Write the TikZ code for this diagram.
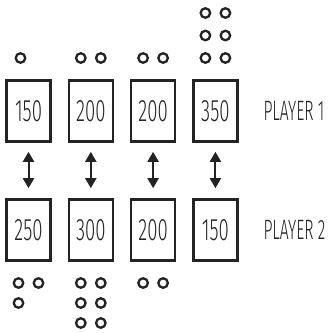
\documentclass[tikz,border=0pt]{standalone}
\usepackage{fontspec}
\newfontfamily\cardfont{Fira Sans}[UprightFont=* Light, FakeStretch=0.6]
\newfontfamily\playerfont{Fira Sans}[UprightFont=* Light, FakeStretch=0.56]
\usepackage{xcolor}
\definecolor{inkgray}{RGB}{35,35,35}
\usepackage{tikz}
\usetikzlibrary{positioning, arrows.meta}

\begin{document}
\begin{tikzpicture}[x=1pt, y=-1pt,
    card/.style={draw=inkgray, line width=2.6pt, minimum width=44pt, minimum height=61pt,
      inner sep=0pt, font=\fontsize{31}{31}\cardfont, text=inkgray},
    coin/.style={circle, draw=inkgray, line width=2.3pt, minimum size=9.5pt, inner sep=0pt},
    duel/.style={inkgray, line width=2pt, {Triangle[width=11pt,length=10pt]}-{Triangle[width=11pt,length=10pt]},
      shorten <=9pt, shorten >=10pt},
    playerlbl/.style={font=\fontsize{28}{28}\playerfont, text=inkgray, anchor=west},
  ]
    \useasboundingbox (0,0) rectangle (330,333);

    % Cartes du joueur 1 (haut)
    \node[card] (t1) at (28.5, 111) {150};
    \node[card] (t2) at (90.8, 111) {200};
    \node[card] (t3) at (153.1, 111) {200};
    \node[card] (t4) at (215.4, 111) {350};

    % Cartes du joueur 2 (bas)
    \node[card] (b1) at (28.5, 230) {250};
    \node[card] (b2) at (90.8, 230) {300};
    \node[card] (b3) at (153.1, 230) {200};
    \node[card] (b4) at (215.4, 230) {150};

    % Etiquettes des joueurs
    \node[playerlbl] (p1) at (260, 111) {PLAYER 1};
    \node[playerlbl] (p2) at (260, 230) {PLAYER 2};

    % Duels
    \draw[duel] (t1) -- (b1);
    \draw[duel] (t2) -- (b2);
    \draw[duel] (t3) -- (b3);
    \draw[duel] (t4) -- (b4);

    % Jetons au-dessus (joueur 1)
    \node[coin] (t1a) at (20.5, 58) {};
    \node[coin] (t2a) at (80.8, 58) {};
    \node[coin] (t2b) at (100.8, 58) {};
    \node[coin] (t3a) at (143.1, 58) {};
    \node[coin] (t3b) at (163.1, 58) {};
    \node[coin] (t4a) at (205.4, 58) {};
    \node[coin] (t4b) at (225.4, 58) {};
    \node[coin] (t4c) at (205.4, 35.5) {};
    \node[coin] (t4d) at (225.4, 35.5) {};
    \node[coin] (t4e) at (205.4, 13) {};
    \node[coin] (t4f) at (225.4, 13) {};

    % Jetons en dessous (joueur 2)
    \node[coin] (b1a) at (18.5, 283) {};
    \node[coin] (b1b) at (38.5, 283) {};
    \node[coin] (b1c) at (18.5, 303) {};
    \node[coin] (b2a) at (80.8, 283) {};
    \node[coin] (b2b) at (100.8, 283) {};
    \node[coin] (b2c) at (80.8, 303) {};
    \node[coin] (b2d) at (100.8, 303) {};
    \node[coin] (b2e) at (80.8, 323) {};
    \node[coin] (b2f) at (100.8, 323) {};
    \node[coin] (b3a) at (143.1, 283) {};
    \node[coin] (b3b) at (163.1, 283) {};
\end{tikzpicture}
\end{document}
